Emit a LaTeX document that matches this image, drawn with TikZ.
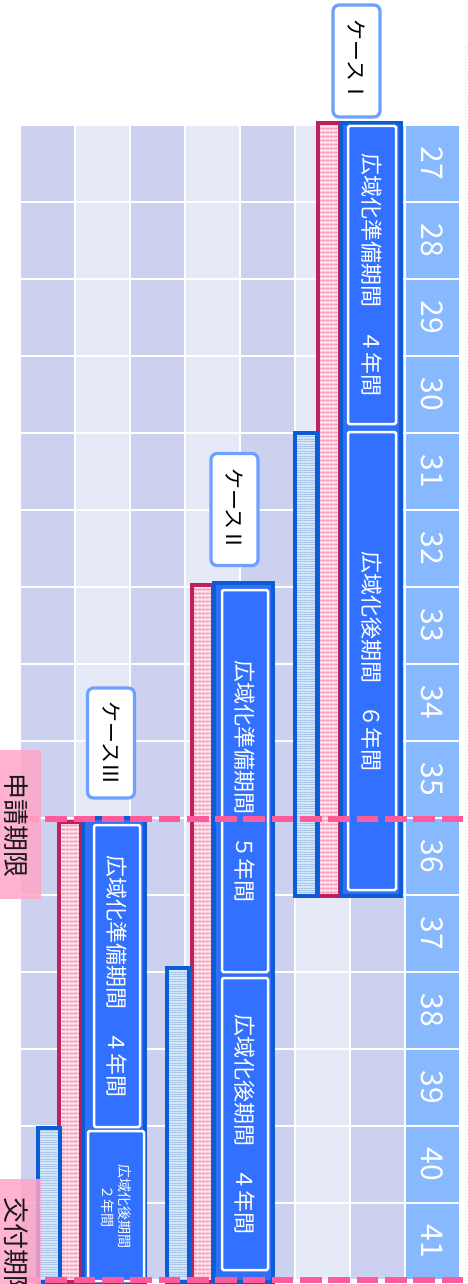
\documentclass[tikz,border=0pt]{standalone}
\usepackage{fontspec}
\setmainfont{Noto Sans CJK JP}
\usepackage{tikz}
\usetikzlibrary{patterns.meta}
\definecolor{coldark}{HTML}{CBD1EE}
\definecolor{collight}{HTML}{E6E9F6}
\definecolor{yearblue}{HTML}{88B9FF}
\definecolor{barblue}{HTML}{3070F8}
\definecolor{bardark}{HTML}{0B5CD5}
\definecolor{boxblue}{HTML}{3271FF}
\definecolor{pinkedge}{HTML}{BE2160}
\definecolor{pinkbg}{HTML}{FDE3EC}
\definecolor{pinkline}{HTML}{F297B6}
\definecolor{skybg}{HTML}{D2E6FA}
\definecolor{skyline}{HTML}{A9C6EA}
\definecolor{limitpink}{HTML}{FF5B9B}
\definecolor{limitfill}{HTML}{FFA6C9}
\definecolor{labeledge}{HTML}{6EA1FF}
\tikzset{
  pinkbar/.style={fill=pinkbg,
    postaction={pattern={Lines[angle=0, distance=4pt, line width=2.2pt]}, pattern color=pinkline},
    postaction={draw=pinkedge, line width=3.5pt}},
  skybar/.style={fill=skybg,
    postaction={pattern={Lines[angle=0, distance=2.4pt, line width=0.9pt]}, pattern color=skyline},
    postaction={draw=bardark, line width=3.5pt}},
  casebar/.style={draw=bardark, fill=barblue, line width=3.5pt},
  periodbox/.style={draw=white, fill=boxblue, line width=2.5pt, rounded corners=1.5pt,
    rotate=-90, inner sep=0pt, text=white, font=\fontsize{22}{26}\selectfont},
  caselabel/.style={draw=labeledge, fill=white, line width=3.2pt, rounded corners=6pt,
    rotate=-90, inner sep=0pt, minimum width=112pt, minimum height=47pt,
    font=\fontsize{21}{24}\selectfont},
  yearlabel/.style={rotate=-90, text=white, font=\fontsize{30}{32}\selectfont},
  limitline/.style={limitpink, line width=5.5pt, dash pattern=on 21.7pt off 6.6pt},
  limitlabel/.style={fill=limitfill, fill opacity=0.85, text opacity=1, rotate=-90,
    inner sep=0pt, minimum width=149pt, minimum height=41pt},
  limittext/.style={rotate=-90, text=black!90, font=\fontsize{26}{28}\selectfont}
}
\begin{document}
\begin{tikzpicture}[x=1pt, y=-1pt]
  \useasboundingbox (0,0) rectangle (468,1284);
  \clip (0,0) rectangle (468,1284);
  % year grid
  \foreach \i/\c in {0/coldark,1/collight,2/coldark,3/collight,4/coldark,5/collight,6/coldark,7/yearblue}
    \foreach \j in {0,...,14}
      \fill[\c] ({21+55*\i},{126+77*\j}) rectangle +(53,75);
  \foreach \n [count=\j from 0] in {27,...,41}
    \node[yearlabel] (y\n) at (432,{163.5+77*\j}) {\n};
  \draw[black!15, dotted, line width=1pt] (465.5,47) -- (465.5,1284);

  % case I
  \path[pinkbar] (318,123) rectangle (340,896);
  \path[skybar] (295,433) rectangle (317,896);
  \draw[casebar] (341,123) rectangle (401,896);
  \node[periodbox, minimum width=298pt, minimum height=48pt] (prepI) at (372,275) {広域化準備期間　４年間};
  \node[periodbox, minimum width=458pt, minimum height=48pt] (postI) at (372,661) {広域化後期間　６年間};
  \node[caselabel] (caseI) at (356.5,61) {ケースⅠ};

  % case II
  \path[pinkbar] (192,585) rectangle (213,1282);
  \path[skybar] (167,968) rectangle (189,1282);
  \draw[casebar] (214,583) rectangle (273,1282);
  \node[periodbox, minimum width=382pt, minimum height=46pt] (prepII) at (245,781) {広域化準備期間　５年間};
  \node[periodbox, minimum width=292pt, minimum height=46pt] (postII) at (245,1124) {広域化後期間　４年間};
  \node[caselabel] (caseII) at (234.5,509.5) {ケースⅡ};

  % case III
  \path[pinkbar] (59,822) rectangle (81,1282);
  \path[skybar] (38,1128) rectangle (60,1282);
  \draw[casebar] (83,818) rectangle (145,1282);
  \node[periodbox, minimum width=302pt, minimum height=46pt] (prepIII) at (117,976) {広域化準備期間　４年間};
  \node[periodbox, minimum width=150pt, minimum height=56pt, align=center,
    font=\fontsize{14}{17}\selectfont] (postIII) at (116,1206) {広域化後期間\\２年間};
  \node[caselabel, minimum width=110pt] (caseIII) at (111,743) {ケースⅢ};

  % deadlines
  \draw[limitline] (17,819) -- (468,819);
  \draw[limitline] (17,1280) -- (468,1280);
  \node[limitlabel] (applyBox) at (20.5,824.5) {};
  \node[limittext] (apply) at (16,825) {申請期限};
  \node[limitlabel] (grantBox) at (20.5,1253.5) {};
  \node[limittext] (grant) at (16,1249) {交付期限};
\end{tikzpicture}
\end{document}
